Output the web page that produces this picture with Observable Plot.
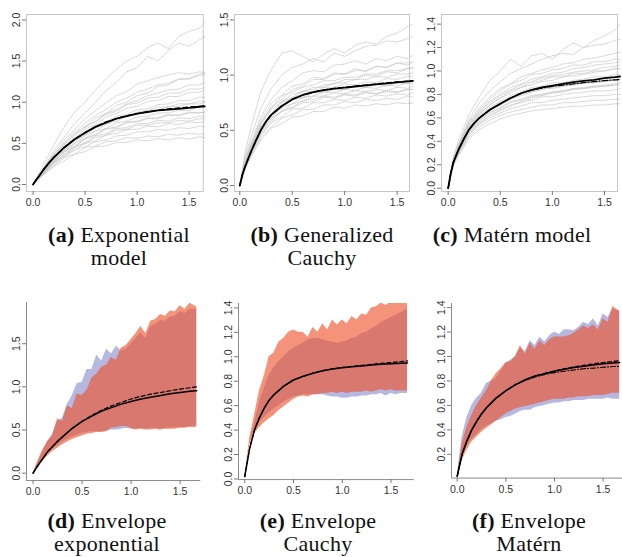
<!DOCTYPE html>
<html><head><meta charset="utf-8">
<script src="https://cdn.jsdelivr.net/npm/d3@7"></script>
<script src="https://cdn.jsdelivr.net/npm/@observablehq/plot@0.6"></script>
<style>
html,body{margin:0;padding:0;background:#fff;}
#fig{position:relative;width:622px;height:557px;overflow:hidden;background:#fff;}
.cap{position:absolute;font-family:"Liberation Serif","Times New Roman",serif;font-size:22px;letter-spacing:0.3px;color:#111;text-align:center;white-space:nowrap;line-height:23px;transform:translateX(-50%);}
.cap b{font-weight:bold;}
</style></head><body><div id="fig"></div>
<script>
// ---------- data ----------
const xTicks = [0, 0.5, 1, 1.5];
const ticksA = [0, 0.5, 1, 1.5, 2];
const ticksB = [0, 0.5, 1, 1.5];
const ticksC = [0, 0.2, 0.4, 0.6, 0.8, 1, 1.2, 1.4];
const ticksD = [0, 0.5, 1, 1.5];
const ticksE = [0, 0.2, 0.4, 0.6, 0.8, 1, 1.2, 1.4];
const ticksF = [0.2, 0.4, 0.6, 0.8, 1, 1.2, 1.4];

const xsSim = [0,0.05,0.1,0.2,0.3,0.4,0.5,0.6,0.7,0.8,0.9,1.0,1.1,1.2,1.3,1.4,1.5,1.6,1.65];
const xsFitT = [0,0.025,0.05,0.1,0.15,0.2,0.25,0.3,0.4,0.5,0.6,0.7,0.8,0.9,1.0,1.1,1.2,1.3,1.4,1.5,1.6,1.65];
const xsFitB = [0,0.05,0.1,0.15,0.2,0.25,0.3,0.4,0.5,0.6,0.7,0.8,0.9,1.0,1.1,1.2,1.3,1.4,1.5,1.6,1.67];
const xsEnv = [0,0.05,0.1,0.15,0.2,0.25,0.3,0.35,0.4,0.45,0.5,0.55,0.6,0.65,0.7,0.75,0.8,0.85,0.9,0.95,1.0,1.05,1.1,1.15,1.2,1.25,1.3,1.35,1.4,1.45,1.5,1.55,1.6,1.67];

const simsA = [
 [0,0.12,0.24,0.48,0.7,0.88,1.0,1.15,1.28,1.4,1.5,1.56,1.66,1.72,1.65,1.8,1.86,1.9,1.97],
 [0,0.1,0.2,0.41,0.58,0.74,0.87,1.0,1.14,1.24,1.37,1.42,1.56,1.5,1.63,1.72,1.68,1.76,1.8],
 [0,0.1,0.19,0.38,0.54,0.67,0.8,0.9,0.99,1.08,1.13,1.22,1.26,1.3,1.33,1.36,1.34,1.37,1.36],
 [0,0.09,0.18,0.36,0.51,0.64,0.74,0.84,0.91,1.0,1.05,1.12,1.16,1.21,1.23,1.28,1.28,1.33,1.33],
 [0,0.09,0.17,0.34,0.49,0.6,0.71,0.77,0.86,0.91,0.98,1.02,1.08,1.11,1.15,1.16,1.21,1.21,1.24],
 [0,0.08,0.16,0.32,0.46,0.55,0.67,0.73,0.82,0.86,0.93,0.95,1.01,1.02,1.07,1.07,1.12,1.12,1.15],
 [0,0.08,0.16,0.31,0.43,0.55,0.62,0.72,0.76,0.83,0.85,0.91,0.92,0.97,0.98,1.02,1.02,1.06,1.06],
 [0,0.08,0.15,0.3,0.42,0.5,0.6,0.65,0.73,0.77,0.83,0.85,0.9,0.9,0.95,0.95,0.98,0.98,1.0],
 [0,0.08,0.15,0.29,0.39,0.5,0.56,0.65,0.68,0.75,0.77,0.82,0.83,0.87,0.87,0.9,0.9,0.94,0.94],
 [0,0.07,0.14,0.28,0.39,0.46,0.55,0.6,0.67,0.69,0.75,0.76,0.8,0.8,0.84,0.84,0.87,0.87,0.88],
 [0,0.07,0.14,0.27,0.36,0.46,0.51,0.59,0.62,0.68,0.69,0.74,0.74,0.78,0.77,0.81,0.8,0.83,0.83],
 [0,0.07,0.13,0.26,0.36,0.42,0.5,0.53,0.6,0.62,0.67,0.67,0.71,0.7,0.74,0.73,0.76,0.75,0.77],
 [0,0.07,0.13,0.25,0.33,0.42,0.46,0.52,0.54,0.59,0.6,0.64,0.64,0.67,0.66,0.69,0.68,0.71,0.7],
 [0,0.06,0.12,0.23,0.33,0.37,0.45,0.47,0.52,0.53,0.57,0.56,0.59,0.58,0.61,0.6,0.62,0.61,0.62],
 [0,0.06,0.12,0.22,0.29,0.37,0.4,0.46,0.47,0.51,0.51,0.54,0.53,0.56,0.54,0.57,0.55,0.58,0.57],
 [0,0.09,0.18,0.37,0.49,0.62,0.7,0.81,0.86,0.96,1.0,1.08,1.11,1.19,1.21,1.28,1.29,1.34,1.35],
 [0,0.08,0.17,0.32,0.47,0.57,0.69,0.76,0.85,0.89,0.97,0.99,1.05,1.06,1.11,1.11,1.16,1.16,1.18],
 [0,0.08,0.15,0.31,0.41,0.53,0.6,0.69,0.73,0.8,0.83,0.88,0.9,0.94,0.94,0.98,0.98,1.01,1.01],
 [0,0.07,0.14,0.28,0.4,0.47,0.56,0.61,0.68,0.7,0.76,0.77,0.81,0.81,0.85,0.84,0.88,0.87,0.88],
 [0,0.07,0.13,0.27,0.35,0.45,0.5,0.57,0.6,0.66,0.67,0.72,0.72,0.75,0.75,0.78,0.77,0.8,0.8]
];
const fitA  = [0,0.05,0.09,0.18,0.26,0.33,0.39,0.45,0.55,0.63,0.7,0.75,0.8,0.83,0.86,0.88,0.9,0.91,0.92,0.93,0.945,0.95];
const fitA2 = [0,0.05,0.09,0.18,0.26,0.33,0.39,0.45,0.55,0.63,0.7,0.76,0.8,0.835,0.862,0.885,0.903,0.918,0.93,0.94,0.95,0.955];

const simsB = [
 [0,0.3,0.5,0.85,1.05,1.2,1.22,1.17,1.12,1.19,1.24,1.2,1.27,1.3,1.28,1.35,1.38,1.44,1.46],
 [0,0.26,0.42,0.7,0.88,1.0,1.07,1.1,1.15,1.12,1.2,1.17,1.22,1.26,1.27,1.31,1.3,1.33,1.35],
 [0,0.23,0.38,0.62,0.78,0.89,0.95,1.02,1.04,1.03,1.09,1.1,1.13,1.1,1.15,1.13,1.17,1.15,1.18],
 [0,0.22,0.36,0.59,0.74,0.82,0.9,0.92,0.98,0.97,1.02,1.01,1.06,1.03,1.08,1.07,1.11,1.11,1.12],
 [0,0.21,0.35,0.57,0.7,0.81,0.85,0.89,0.91,0.95,0.95,0.98,0.98,1.01,1.01,1.04,1.04,1.06,1.07],
 [0,0.2,0.33,0.55,0.69,0.76,0.83,0.85,0.89,0.89,0.93,0.93,0.96,0.96,0.99,0.98,1.01,1.01,1.02],
 [0,0.19,0.32,0.53,0.65,0.75,0.79,0.85,0.85,0.89,0.89,0.92,0.91,0.94,0.93,0.97,0.96,0.99,0.99],
 [0,0.18,0.31,0.51,0.65,0.71,0.79,0.8,0.85,0.85,0.88,0.87,0.9,0.89,0.92,0.91,0.94,0.93,0.95],
 [0,0.17,0.3,0.5,0.61,0.71,0.74,0.8,0.81,0.85,0.84,0.87,0.86,0.89,0.88,0.91,0.9,0.93,0.92],
 [0,0.17,0.29,0.48,0.61,0.67,0.74,0.76,0.81,0.81,0.84,0.83,0.86,0.85,0.87,0.86,0.89,0.88,0.9],
 [0,0.16,0.28,0.46,0.57,0.67,0.7,0.75,0.76,0.8,0.79,0.82,0.81,0.84,0.83,0.85,0.84,0.87,0.87],
 [0,0.16,0.27,0.45,0.57,0.62,0.69,0.7,0.75,0.75,0.78,0.77,0.8,0.79,0.82,0.81,0.83,0.82,0.84],
 [0,0.15,0.26,0.43,0.53,0.61,0.64,0.69,0.69,0.73,0.73,0.76,0.75,0.78,0.77,0.79,0.78,0.81,0.8],
 [0,0.14,0.25,0.41,0.52,0.56,0.62,0.63,0.67,0.67,0.71,0.7,0.73,0.72,0.74,0.73,0.75,0.74,0.75],
 [0,0.2,0.34,0.56,0.71,0.78,0.87,0.9,0.96,0.96,1.01,1.01,1.04,1.04,1.08,1.07,1.11,1.09,1.12],
 [0,0.19,0.32,0.53,0.65,0.76,0.8,0.86,0.87,0.91,0.92,0.96,0.96,1.0,0.99,1.03,1.02,1.06,1.06],
 [0,0.18,0.3,0.5,0.64,0.7,0.78,0.79,0.84,0.84,0.87,0.87,0.9,0.89,0.92,0.9,0.93,0.92,0.94],
 [0,0.17,0.29,0.48,0.59,0.68,0.71,0.77,0.78,0.81,0.8,0.83,0.82,0.85,0.83,0.86,0.85,0.87,0.87]
];
const fitB  = [0,0.1,0.17,0.29,0.4,0.5,0.58,0.64,0.72,0.78,0.82,0.845,0.865,0.877,0.887,0.897,0.907,0.917,0.926,0.935,0.943,0.947];
const fitB2 = [0,0.1,0.17,0.29,0.4,0.5,0.58,0.64,0.72,0.78,0.82,0.846,0.866,0.879,0.89,0.9,0.91,0.92,0.93,0.938,0.946,0.95];

const simsC = [
 [0,0.27,0.41,0.63,0.78,0.92,1.0,1.1,1.04,1.13,1.15,1.1,1.18,1.24,1.2,1.26,1.3,1.35,1.4],
 [0,0.25,0.38,0.59,0.73,0.83,0.91,0.98,1.02,1.06,1.1,1.13,1.15,1.14,1.2,1.22,1.23,1.26,1.27],
 [0,0.25,0.37,0.57,0.69,0.78,0.85,0.89,0.95,0.98,1.01,1.03,1.06,1.07,1.1,1.11,1.13,1.15,1.16],
 [0,0.24,0.36,0.55,0.66,0.74,0.8,0.86,0.89,0.93,0.95,0.98,0.99,1.02,1.03,1.05,1.06,1.07,1.08],
 [0,0.23,0.35,0.53,0.64,0.71,0.77,0.81,0.86,0.88,0.91,0.92,0.95,0.96,0.97,0.99,1.0,1.02,1.02],
 [0,0.23,0.34,0.52,0.62,0.69,0.74,0.79,0.82,0.86,0.87,0.9,0.9,0.92,0.93,0.95,0.95,0.97,0.97],
 [0,0.22,0.33,0.5,0.6,0.67,0.72,0.76,0.8,0.82,0.85,0.85,0.87,0.88,0.9,0.9,0.92,0.92,0.93],
 [0,0.22,0.32,0.49,0.58,0.65,0.69,0.74,0.76,0.79,0.8,0.82,0.83,0.85,0.85,0.87,0.87,0.88,0.88],
 [0,0.21,0.31,0.47,0.56,0.62,0.67,0.7,0.74,0.75,0.78,0.78,0.8,0.81,0.82,0.83,0.83,0.84,0.85],
 [0,0.2,0.3,0.46,0.54,0.6,0.64,0.68,0.7,0.73,0.73,0.75,0.76,0.77,0.78,0.79,0.79,0.8,0.8],
 [0,0.2,0.29,0.44,0.52,0.58,0.62,0.65,0.67,0.69,0.71,0.71,0.73,0.73,0.74,0.75,0.75,0.76,0.76],
 [0,0.19,0.28,0.42,0.5,0.55,0.59,0.62,0.64,0.66,0.67,0.68,0.69,0.7,0.7,0.71,0.71,0.72,0.72],
 [0,0.25,0.36,0.56,0.67,0.76,0.83,0.89,0.92,0.97,0.98,1.01,1.02,1.05,1.05,1.08,1.08,1.1,1.1],
 [0,0.23,0.34,0.52,0.63,0.71,0.77,0.83,0.86,0.9,0.92,0.95,0.95,0.98,0.98,1.0,1.0,1.02,1.02],
 [0,0.21,0.31,0.48,0.57,0.64,0.68,0.73,0.75,0.78,0.8,0.82,0.83,0.85,0.86,0.87,0.88,0.89,0.9],
 [0,0.2,0.3,0.46,0.55,0.62,0.66,0.71,0.73,0.77,0.79,0.81,0.82,0.84,0.85,0.86,0.87,0.88,0.89],
 [0,0.24,0.35,0.54,0.65,0.73,0.79,0.84,0.88,0.91,0.94,0.96,0.97,0.99,1.0,1.01,1.03,1.04,1.05],
 [0,0.21,0.32,0.49,0.59,0.66,0.71,0.76,0.79,0.82,0.84,0.86,0.87,0.88,0.9,0.9,0.91,0.92,0.93]
];
const fitC  = [0,0.13,0.22,0.33,0.42,0.5,0.555,0.6,0.67,0.72,0.77,0.81,0.84,0.86,0.876,0.89,0.905,0.915,0.925,0.94,0.948,0.953];
const fitC2 = [0,0.13,0.22,0.33,0.42,0.5,0.555,0.6,0.67,0.72,0.77,0.81,0.835,0.855,0.87,0.88,0.89,0.9,0.91,0.918,0.925,0.927];

const dBlueLo = [0,0.09,0.17,0.23,0.28,0.32,0.36,0.39,0.42,0.44,0.46,0.47,0.48,0.48,0.48,0.49,0.5,0.5,0.51,0.52,0.51,0.51,0.52,0.51,0.52,0.52,0.51,0.52,0.52,0.53,0.53,0.53,0.54,0.55];
const dBlueHi = [0,0.13,0.25,0.36,0.45,0.6,0.64,0.8,0.9,1.04,1.05,1.2,1.2,1.37,1.3,1.44,1.38,1.47,1.42,1.44,1.5,1.56,1.63,1.56,1.7,1.72,1.77,1.76,1.81,1.82,1.87,1.85,1.9,1.9];
const dRedLo  = [0,0.07,0.14,0.2,0.25,0.29,0.33,0.36,0.39,0.41,0.43,0.45,0.46,0.47,0.47,0.48,0.52,0.53,0.54,0.54,0.52,0.5,0.51,0.5,0.5,0.51,0.5,0.51,0.51,0.51,0.52,0.52,0.53,0.53];
const dRedHi  = [0,0.14,0.27,0.37,0.44,0.63,0.6,0.78,0.75,0.92,0.9,0.96,1.1,1.15,1.23,1.25,1.34,1.31,1.45,1.48,1.55,1.62,1.7,1.62,1.76,1.78,1.84,1.82,1.88,1.87,1.94,1.9,1.97,1.93];
const fitD  = [0,0.09,0.17,0.25,0.31,0.37,0.42,0.52,0.6,0.66,0.72,0.76,0.8,0.83,0.86,0.88,0.9,0.92,0.935,0.948,0.955];
const fitD2 = [0,0.09,0.17,0.25,0.31,0.37,0.42,0.52,0.6,0.67,0.73,0.78,0.82,0.86,0.89,0.915,0.935,0.955,0.975,0.99,1.0];

const eBlueLo = [0.02,0.3,0.41,0.46,0.5,0.54,0.57,0.6,0.63,0.65,0.67,0.68,0.69,0.69,0.69,0.69,0.69,0.68,0.67,0.67,0.66,0.66,0.67,0.67,0.68,0.68,0.69,0.69,0.7,0.68,0.7,0.69,0.7,0.7];
const eBlueHi = [0.02,0.3,0.45,0.62,0.74,0.85,0.91,0.96,1.0,1.04,1.07,1.09,1.11,1.14,1.15,1.15,1.14,1.13,1.12,1.11,1.12,1.13,1.15,1.16,1.19,1.2,1.23,1.25,1.28,1.3,1.32,1.34,1.36,1.39];
const eRedLo  = [0.02,0.28,0.37,0.42,0.46,0.49,0.52,0.56,0.59,0.62,0.65,0.67,0.68,0.67,0.69,0.69,0.7,0.7,0.71,0.7,0.71,0.7,0.71,0.71,0.71,0.72,0.71,0.72,0.73,0.72,0.73,0.72,0.72,0.72];
const eRedHi  = [0.02,0.33,0.52,0.72,0.84,1.0,1.03,1.12,1.15,1.2,1.22,1.2,1.2,1.16,1.24,1.2,1.27,1.22,1.3,1.26,1.3,1.27,1.33,1.3,1.35,1.34,1.4,1.41,1.44,1.42,1.45,1.45,1.45,1.45];
const fitE  = [0.02,0.25,0.4,0.5,0.58,0.645,0.69,0.76,0.81,0.84,0.865,0.885,0.9,0.91,0.918,0.925,0.932,0.938,0.943,0.948,0.95];
const fitE2 = [0.02,0.25,0.4,0.5,0.58,0.645,0.69,0.76,0.81,0.84,0.866,0.886,0.901,0.913,0.922,0.93,0.938,0.946,0.953,0.96,0.966];

const fBlueLo = [0.02,0.18,0.27,0.32,0.36,0.4,0.43,0.45,0.47,0.48,0.5,0.51,0.53,0.55,0.56,0.56,0.58,0.59,0.6,0.61,0.62,0.62,0.63,0.63,0.64,0.64,0.64,0.65,0.65,0.65,0.65,0.66,0.65,0.65];
const fBlueHi = [0.02,0.34,0.5,0.6,0.66,0.7,0.78,0.8,0.82,0.88,0.94,0.97,1.0,1.07,1.04,1.13,1.09,1.16,1.12,1.17,1.2,1.18,1.22,1.22,1.21,1.24,1.28,1.26,1.31,1.25,1.35,1.32,1.39,1.37];
const fRedLo  = [0.02,0.15,0.23,0.3,0.34,0.38,0.41,0.44,0.47,0.5,0.53,0.55,0.57,0.58,0.59,0.6,0.61,0.62,0.63,0.64,0.65,0.65,0.65,0.66,0.66,0.67,0.67,0.67,0.68,0.68,0.68,0.69,0.7,0.7];
const fRedHi  = [0.02,0.28,0.42,0.52,0.6,0.66,0.72,0.8,0.86,0.9,0.95,0.96,1.0,1.09,1.02,1.11,1.06,1.13,1.09,1.14,1.16,1.16,1.16,1.17,1.19,1.22,1.25,1.23,1.26,1.22,1.31,1.28,1.41,1.37];
const fitF  = [0.02,0.2,0.31,0.4,0.47,0.53,0.58,0.66,0.72,0.77,0.81,0.84,0.86,0.88,0.895,0.91,0.92,0.93,0.94,0.948,0.951];
const fitF2 = [0.02,0.2,0.31,0.4,0.47,0.53,0.58,0.66,0.72,0.77,0.81,0.84,0.862,0.882,0.9,0.915,0.928,0.94,0.95,0.96,0.965];
const fitF3 = [0.02,0.2,0.31,0.4,0.47,0.53,0.58,0.66,0.72,0.77,0.805,0.832,0.853,0.868,0.88,0.89,0.9,0.905,0.912,0.918,0.92];

const captions = [
  {html:"<b>(a)</b> Exponential<br>model", cx:119, top:223},
  {html:"<b>(b)</b> Generalized<br>Cauchy", cx:322, top:223},
  {html:"<b>(c)</b> Matérn model", cx:512, top:223},
  {html:"<b>(d)</b> Envelope<br>exponential", cx:107, top:509},
  {html:"<b>(e)</b> Envelope<br>Cauchy", cx:318, top:509},
  {html:"<b>(f)</b> Envelope<br>Matérn", cx:529, top:509}
];

// ---------- helpers ----------
const fig = document.getElementById("fig");
const fmt = d => d.toFixed(1);
const pts = (xs, ys) => ys.map((y, i) => ({x: xs[i], y}));
const simRows = sims => sims.flatMap((ys, id) => ys.map((y, i) => ({x: xsSim[i], y, id})));
const env = (lo, hi) => xsEnv.map((x, i) => ({x, lo: lo[i], hi: hi[i]}));

function panel(g, marks, yticks) {
  const mL = 34, mR = 4, mT = 6, mB = 28;
  const svg = Plot.plot({
    width: (g.R - g.L) + mL + mR,
    height: (g.B - g.T) + mT + mB,
    marginLeft: mL, marginRight: mR, marginTop: mT, marginBottom: mB,
    x: {domain: g.xdom},
    y: {domain: g.ydom},
    style: {background: "transparent", color: "#333", fontFamily: "'Liberation Sans', Arial, sans-serif", overflow: "visible"},
    marks: [
      ...marks,
      Plot.axisY({ticks: yticks, tickFormat: fmt, tickRotate: -90, tickSize: 4, tickPadding: 3, fontSize: 10.5, stroke: "#777", label: null}),
      Plot.axisX({ticks: xTicks, tickFormat: fmt, tickSize: 4, tickPadding: 3, fontSize: 10.5, stroke: "#777", label: null})
    ]
  });
  svg.style.position = "absolute";
  svg.style.left = (g.L - mL) + "px";
  svg.style.top = (g.T - mT) + "px";
  fig.appendChild(svg);
}

function topMarks(g, sims, fit, fit2, dash2) {
  return [
    Plot.frame({stroke: "#c6c6c6"}),
    Plot.line(simRows(sims), {x: "x", y: "y", z: "id", stroke: "#c4c4c4", strokeWidth: 0.8, strokeDasharray: "1,1.2"}),
    Plot.line(pts(xsFitT, fit2), {x: "x", y: "y", stroke: "#000", strokeWidth: 1.3, strokeDasharray: dash2}),
    Plot.line(pts(xsFitT, fit), {x: "x", y: "y", stroke: "#000", strokeWidth: 1.8})
  ];
}

const BLUE = "rgb(181,185,226)", RED = "rgb(237,81,40)";
function bottomMarks(g, bLo, bHi, rLo, rHi, fits) {
  return [
    Plot.areaY(env(bLo, bHi), {x: "x", y1: "lo", y2: "hi", fill: BLUE, clip: true}),
    Plot.areaY(env(rLo, rHi), {x: "x", y1: "lo", y2: "hi", fill: RED, fillOpacity: 0.62, clip: true}),
    ...fits.map(f => Plot.line(pts(xsFitB, f.ys), {x: "x", y: "y", stroke: "#000", strokeWidth: f.w, strokeDasharray: f.dash})),
    Plot.ruleX([g.xdom[0]], {stroke: "#8c8c8c"}),
    Plot.ruleY([g.ydom[0]], {stroke: "#8c8c8c"})
  ];
}

// ---------- geometry ----------
const gA = {L:25.7, R:202.5, T:14, B:191, xdom:[-0.0635,1.636], ydom:[-0.085,2.066]};
const gB = {L:234,  R:409,   T:14, B:191, xdom:[-0.0505,1.618], ydom:[-0.054,1.549]};
const gC = {L:441,  R:617,   T:14, B:191, xdom:[-0.064,1.625],  ydom:[-0.028,1.482]};
const gD = {L:25.7, R:200,   T:302, B:480, xdom:[-0.067,1.711], ydom:[-0.085,1.978]};
const gE = {L:238.3,R:414,   T:303.3, B:479.4, xdom:[-0.064,1.738], ydom:[-0.005,1.436]};
const gF = {L:451,  R:622,   T:302.7, B:477.3, xdom:[-0.0586,1.699], ydom:[0.005,1.434]};

panel(gA, topMarks(gA, simsA, fitA, fitA2, "5,3"), ticksA);
panel(gB, topMarks(gB, simsB, fitB, fitB2, "5,3"), ticksB);
panel(gC, topMarks(gC, simsC, fitC, fitC2, "6,2,1,2"), ticksC);
panel(gD, bottomMarks(gD, dBlueLo, dBlueHi, dRedLo, dRedHi,
  [{ys: fitD2, w: 1.2, dash: "4,2.5"}, {ys: fitD, w: 1.5}]), ticksD);
panel(gE, bottomMarks(gE, eBlueLo, eBlueHi, eRedLo, eRedHi,
  [{ys: fitE2, w: 1.2, dash: "4,2.5"}, {ys: fitE, w: 1.5}]), ticksE);
panel(gF, bottomMarks(gF, fBlueLo, fBlueHi, fRedLo, fRedHi,
  [{ys: fitF2, w: 1.2, dash: "4,2.5"}, {ys: fitF3, w: 1.1, dash: "5,2,1,2"}, {ys: fitF, w: 1.5}]), ticksF);

for (const c of captions) {
  const d = document.createElement("div");
  d.className = "cap";
  d.innerHTML = c.html;
  d.style.left = c.cx + "px";
  d.style.top = c.top + "px";
  fig.appendChild(d);
}
</script></body></html>
